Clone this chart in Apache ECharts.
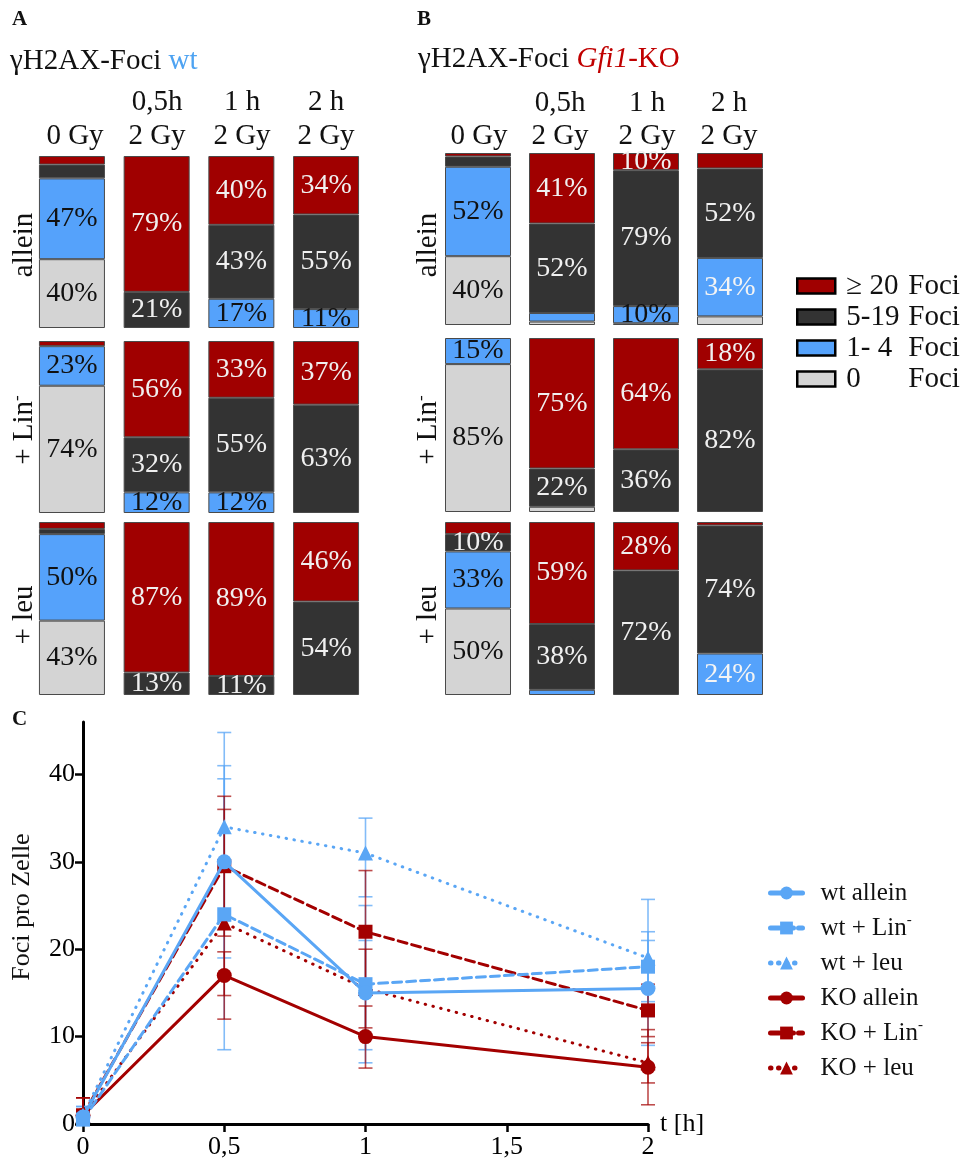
<!DOCTYPE html>
<html><head><meta charset="utf-8">
<script src="https://cdn.jsdelivr.net/npm/echarts@6/dist/echarts.min.js"></script>
<style>html,body{margin:0;padding:0;background:#fff}#c{width:963px;height:1162px}</style>
</head><body><div id="c"></div>
<script>
// ---------- DATA: stacked bars (percent of cells) ----------
const barCategories = ['0 Gy', '0,5h 2 Gy', '1 h 2 Gy', '2 h 2 Gy'];
const fociClasses = ['0 Foci', '1- 4 Foci', '5-19 Foci', '≥ 20 Foci'];
const rowNames = ['allein', '+ Lin-', '+ leu'];
const timeHeaders = ['0,5h', '1 h', '2 h'];
const doseHeaders = ['0 Gy', '2 Gy', '2 Gy', '2 Gy'];

// Panel A: wt
const wtAllein0   = [40, 0, 0, 0];
const wtAllein1_4 = [47, 0, 17, 11];
const wtAllein5_19= [8, 21, 43, 55];
const wtAllein20  = [5, 79, 40, 34];
const wtLin0      = [74, 0, 0, 0];
const wtLin1_4    = [23, 12, 12, 0];
const wtLin5_19   = [0, 32, 55, 63];
const wtLin20     = [3, 56, 33, 37];
const wtLeu0      = [43, 0, 0, 0];
const wtLeu1_4    = [50, 0, 0, 0];
const wtLeu5_19   = [3, 13, 11, 54];
const wtLeu20     = [4, 87, 89, 46];
// Panel B: Gfi1-KO
const koAllein0   = [40, 2, 1, 5];
const koAllein1_4 = [52, 5, 10, 34];
const koAllein5_19= [6, 52, 79, 52];
const koAllein20  = [2, 41, 10, 9];
const koLin0      = [85, 3, 0, 0];
const koLin1_4    = [15, 0, 0, 0];
const koLin5_19   = [0, 22, 36, 82];
const koLin20     = [0, 75, 64, 18];
const koLeu0      = [50, 0, 0, 0];
const koLeu1_4    = [33, 3, 0, 24];
const koLeu5_19   = [10, 38, 72, 74];
const koLeu20     = [7, 59, 28, 2];

// ---------- DATA: Foci pro Zelle over time ----------
const tHours = [0, 0.5, 1, 2];
const xTicks = [0, 0.5, 1, 1.5, 2];
const yTicks = [0, 10, 20, 30, 40];
const lineNames = ['wt allein', 'wt + Lin-', 'wt + leu', 'KO allein', 'KO + Lin-', 'KO + leu'];
const wtAlleinMean = [0.8, 30, 15, 15.5];
const wtAlleinLow  = [0, 19, 8.5, 9];
const wtAlleinHigh = [2, 41, 21, 21];
const wtLinMean    = [0.5, 24, 16, 18];
const wtLinLow     = [0, 8.5, 7, 14];
const wtLinHigh    = [1.5, 39.5, 25, 22];
const wtLeuMean    = [1, 34, 31, 19];
const wtLeuLow     = [0, 23.2, 26, 12.3];
const wtLeuHigh    = [2, 44.8, 35, 25.7];
const koAlleinMean = [1, 17, 10, 6.5];
const koAlleinLow  = [0, 14.7, 6.4, 2.2];
const koAlleinHigh = [3, 19.7, 13.5, 10.8];
const koLinMean    = [1, 29.5, 22, 13];
const koLinLow     = [0, 21.5, 15, 10];
const koLinHigh    = [3, 37.5, 29, 16];
const koLeuMean    = [1, 23, 15.5, 7];
const koLeuLow     = [0, 12, 11, 4.7];
const koLeuHigh    = [3, 36, 20, 9.3];

// ---------- STYLE / LAYOUT ----------
const FONT = 'Liberation Serif';
const classColors = ['#d4d4d4', '#55a2fb', '#333333', '#a00000'];
const classLabelColors = ['#111', '#111', '#f0f0f0', '#f0f0f0'];
const blueLine = '#5aa6f5', redLine = '#a30000';

const barRows = [
  [wtAllein0, wtAllein1_4, wtAllein5_19, wtAllein20],
  [wtLin0, wtLin1_4, wtLin5_19, wtLin20],
  [wtLeu0, wtLeu1_4, wtLeu5_19, wtLeu20],
  [koAllein0, koAllein1_4, koAllein5_19, koAllein20],
  [koLin0, koLin1_4, koLin5_19, koLin20],
  [koLeu0, koLeu1_4, koLeu5_19, koLeu20]
];
const barGrids = [
  {left: 29.6, width: 338.8, top: 156, height: 172},
  {left: 29.6, width: 338.8, top: 341, height: 172},
  {left: 29.6, width: 338.8, top: 522, height: 173},
  {left: 436, width: 336, top: 153, height: 172},
  {left: 436, width: 336, top: 338, height: 174},
  {left: 436, width: 336, top: 522, height: 173}
];
// white label on blue in the KO 2 h bars
const whiteBlueLabels = {'3_3': true, '5_3': true};

const grids = [], xAxes = [], yAxes = [], series = [];
barGrids.forEach((g, r) => {
  grids.push(Object.assign({containLabel: false}, g));
  xAxes.push({type: 'category', gridIndex: r, data: barCategories, show: false});
  yAxes.push({type: 'value', gridIndex: r, min: 0, max: 100, show: false});
  barRows[r].forEach((vals, c) => {
    series.push({
      type: 'bar', name: fociClasses[c], xAxisIndex: r, yAxisIndex: r,
      stack: 'row' + r, barWidth: 66,
      itemStyle: {color: classColors[c], borderColor: '#4a4a4a', borderWidth: 1},
      label: {show: true, position: 'inside', fontFamily: FONT, fontSize: 28,
        color: classLabelColors[c], formatter: p => p.value + '%'},
      emphasis: {disabled: true},
      data: vals.map((v, i) => {
        if (!v) return '-';
        const item = {value: v, label: {show: v >= 10}};
        if (c === 1 && whiteBlueLabels[r + '_' + i]) item.label.color = '#f4f4f4';
        return item;
      })
    });
  });
});

// line chart grid
const LG = 6;
grids.push({left: 83, top: 722, width: 565, height: 402, containLabel: false});
xAxes.push({
  type: 'value', gridIndex: LG, min: 0, max: 2, interval: 0.5,
  axisLine: {show: true, lineStyle: {color: '#000', width: 3}},
  axisTick: {show: true, length: 8, customValues: xTicks, lineStyle: {color: '#000', width: 2.5}},
  axisLabel: {customValues: xTicks, formatter: v => String(v).replace('.', ','), fontFamily: FONT, fontSize: 26, color: '#000', margin: 10},
  splitLine: {show: false},
  name: 't [h]', nameLocation: 'end', nameGap: 12,
  nameTextStyle: {fontFamily: FONT, fontSize: 26, color: '#000', verticalAlign: 'middle', padding: [8, 0, 0, 0]}
});
yAxes.push({
  type: 'value', gridIndex: LG, min: 0, max: 46, interval: 10,
  axisLine: {show: true, lineStyle: {color: '#000', width: 3}},
  axisTick: {show: true, length: 8, customValues: yTicks, lineStyle: {color: '#000', width: 2.5}},
  axisLabel: {customValues: yTicks, fontFamily: FONT, fontSize: 26, color: '#000', margin: 8},
  splitLine: {show: false}
});

const lineDefs = [
  {mean: wtAlleinMean, lo: wtAlleinLow, hi: wtAlleinHigh, color: blueLine, type: 'solid', symbol: 'circle', size: 15},
  {mean: wtLinMean, lo: wtLinLow, hi: wtLinHigh, color: blueLine, type: [9, 5], symbol: 'rect', size: 14},
  {mean: wtLeuMean, lo: wtLeuLow, hi: wtLeuHigh, color: blueLine, type: [0.5, 7.5], symbol: 'triangle', size: 15},
  {mean: koAlleinMean, lo: koAlleinLow, hi: koAlleinHigh, color: redLine, type: 'solid', symbol: 'circle', size: 15},
  {mean: koLinMean, lo: koLinLow, hi: koLinHigh, color: redLine, type: [9, 5], symbol: 'rect', size: 14},
  {mean: koLeuMean, lo: koLeuLow, hi: koLeuHigh, color: redLine, type: [0.5, 7.5], symbol: 'triangle', size: 15}
];
const zOrder = [12, 10, 9, 8, 7, 6];
lineDefs.forEach((d, k) => {
  const errColor = d.color === blueLine ? 'rgba(90,166,245,0.75)' : 'rgba(163,0,0,0.7)';
  series.push({
    type: 'custom', xAxisIndex: LG, yAxisIndex: LG, silent: true, z: 1,
    data: tHours.map((t, i) => [t, d.lo[i], d.hi[i]]),
    encode: {x: 0, y: [1, 2]},
    renderItem: (params, api) => {
      const x = api.value(0);
      const p1 = api.coord([x, api.value(1)]);
      const p2 = api.coord([x, api.value(2)]);
      const hw = 7;
      const st = {stroke: errColor, lineWidth: 1.6};
      return {type: 'group', children: [
        {type: 'line', shape: {x1: p1[0], y1: p1[1], x2: p2[0], y2: p2[1]}, style: st},
        {type: 'line', shape: {x1: p1[0] - hw, y1: p1[1], x2: p1[0] + hw, y2: p1[1]}, style: st},
        {type: 'line', shape: {x1: p2[0] - hw, y1: p2[1], x2: p2[0] + hw, y2: p2[1]}, style: st}
      ]};
    }
  });
  series.push({
    type: 'line', name: lineNames[k], xAxisIndex: LG, yAxisIndex: LG, z: zOrder[k],
    data: tHours.map((t, i) => [t, d.mean[i]]),
    symbol: d.symbol, symbolSize: d.size, showSymbol: true,
    itemStyle: {color: d.color},
    lineStyle: {color: d.color, width: 3, type: d.type, cap: 'round'},
    emphasis: {disabled: true}
  });
});

// ---------- TEXT ----------
const graphic = [];
function txt(x, y, text, o) {
  graphic.push(Object.assign({type: 'text', x: x, y: y,
    style: Object.assign({text: text, fontFamily: FONT, fontSize: 29, fill: '#111', align: 'center', verticalAlign: 'middle'}, o || {})}));
}
txt(12, 20, 'A', {fontSize: 21, fontWeight: 'bold', align: 'left'});
txt(417, 20, 'B', {fontSize: 21, fontWeight: 'bold', align: 'left'});
txt(12, 720, 'C', {fontSize: 21, fontWeight: 'bold', align: 'left'});
txt(10, 61, 'γH2AX-Foci {w|wt}', {align: 'left', rich: {w: {fill: '#4ea3f2', fontFamily: FONT, fontSize: 29}}});
txt(418, 59, 'γH2AX-Foci {k|Gfi1}{r|-KO}', {align: 'left', rich: {
  k: {fill: '#c00000', fontFamily: FONT, fontSize: 29, fontStyle: 'italic'},
  r: {fill: '#c00000', fontFamily: FONT, fontSize: 29}}});
const hdrXA = [75, 157, 242, 326], hdrXB = [479, 560, 647, 729];
timeHeaders.forEach((h, i) => { txt(hdrXA[i + 1], 102.5, h); txt(hdrXB[i + 1], 103.5, h); });
doseHeaders.forEach((h, i) => { txt(hdrXA[i], 136.5, h); txt(hdrXB[i], 136.5, h); });
const rowY = [245, 430, 615], rowXA = 24, rowXB = 428;
function rowLabel(x, y, name) {
  const t = name.replace('Lin-', 'Lin{s|-}');
  graphic.push({type: 'text', x: x, y: y, rotation: Math.PI / 2,
    style: {text: t, fontFamily: FONT, fontSize: 29, fill: '#111', align: 'center', verticalAlign: 'middle',
      rich: {s: {fontFamily: FONT, fontSize: 17, fill: '#111', verticalAlign: 'top', lineHeight: 28}}}});
}
rowNames.forEach((n, i) => { rowLabel(rowXA, rowY[i], n); rowLabel(rowXB, rowY[i], n); });
graphic.push({type: 'text', x: 22, y: 907, rotation: Math.PI / 2,
  style: {text: 'Foci pro Zelle', fontFamily: FONT, fontSize: 26, fill: '#111', align: 'center', verticalAlign: 'middle'}});

const option = {
  animation: false,
  backgroundColor: '#fff',
  grid: grids, xAxis: xAxes, yAxis: yAxes, series: series, graphic: graphic,
  legend: [
    {
      orient: 'vertical', left: 796, top: 271, padding: 0, itemWidth: 38, itemHeight: 15, itemGap: 1,
      data: fociClasses.slice().reverse(), selectedMode: false, icon: 'rect',
      itemStyle: {borderColor: '#000', borderWidth: 2.5},
      formatter: n => '{a|' + n.replace(' Foci', '') + '}{b|Foci}',
      textStyle: {fontFamily: FONT, fontSize: 29, color: '#111', lineHeight: 30, padding: [0, 0, 0, 6],
        rich: {a: {fontFamily: FONT, fontSize: 29, width: 62, lineHeight: 30}, b: {fontFamily: FONT, fontSize: 29, lineHeight: 30}}}
    },
    {
      orient: 'vertical', left: 768, top: 878, padding: 0, itemWidth: 32, itemHeight: 16, itemGap: 5,
      data: lineNames, selectedMode: false,
      lineStyle: {width: 5},
      formatter: n => n.replace('Lin-', 'Lin{s|-}'),
      textStyle: {fontFamily: FONT, fontSize: 25, color: '#111', lineHeight: 30, padding: [0, 0, 0, 13],
        rich: {s: {fontFamily: FONT, fontSize: 15, verticalAlign: 'top', lineHeight: 26}}}
    }
  ]
};
const chart = echarts.init(document.getElementById('c'), null, {renderer: 'canvas'});
chart.setOption(option);
</script></body></html>
